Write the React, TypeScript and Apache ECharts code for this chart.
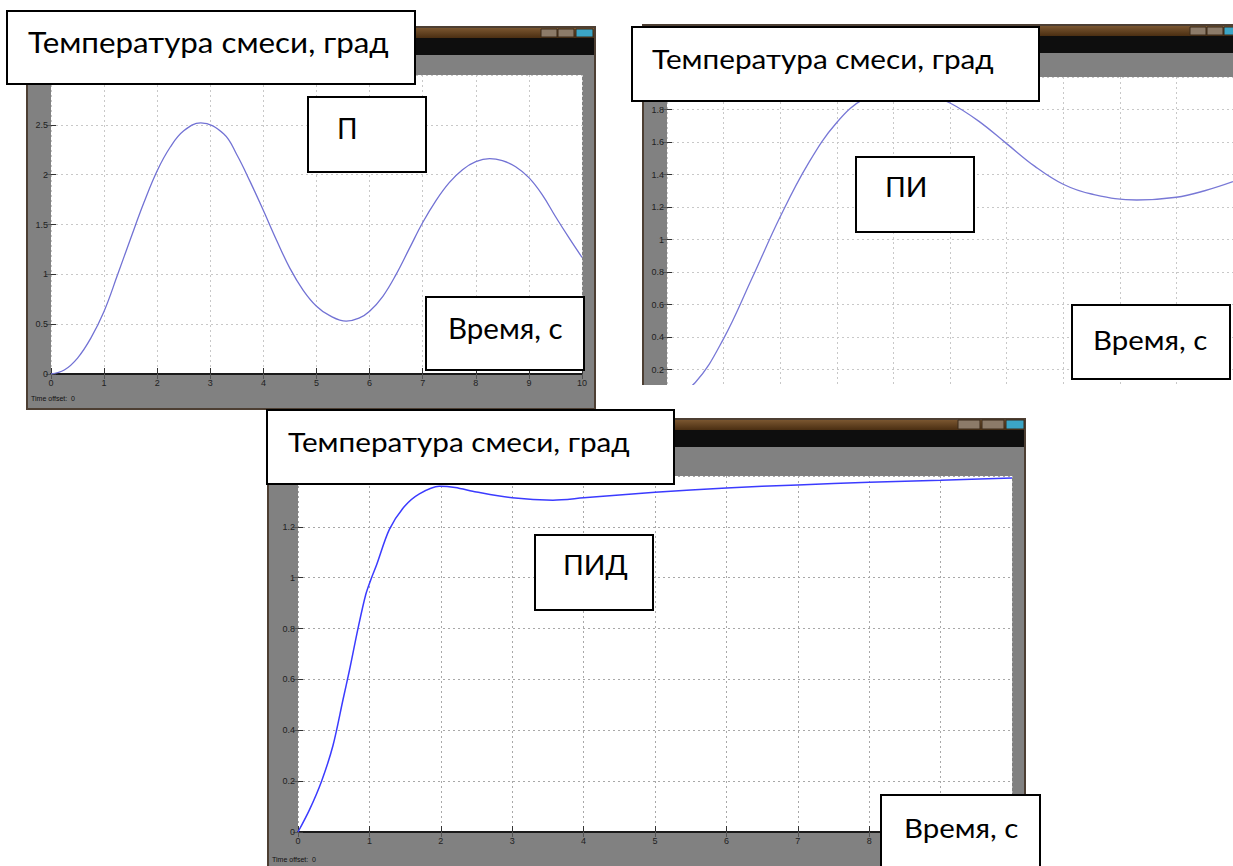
import { useEffect, useRef } from "react";
import * as echarts from "echarts";

// ---- data ----
const pTime = [0, 0.25, 0.5, 0.75, 1, 1.25, 1.5, 1.75, 2, 2.25, 2.5, 2.82, 3.25, 3.5, 3.75, 4, 4.25, 4.5, 4.75, 5, 5.25, 5.56, 5.8, 6, 6.25, 6.5, 6.75, 7, 7.25, 7.5, 7.75, 8, 8.26, 8.5, 8.75, 9, 9.25, 9.5, 9.75, 10];
const pTemp = [0, 0.04, 0.16, 0.36, 0.63, 0.99, 1.36, 1.72, 2.04, 2.28, 2.44, 2.52, 2.41, 2.2, 1.93, 1.64, 1.34, 1.06, 0.84, 0.68, 0.585, 0.53, 0.56, 0.63, 0.78, 1.0, 1.26, 1.52, 1.74, 1.92, 2.05, 2.13, 2.16, 2.14, 2.08, 1.97, 1.8, 1.58, 1.37, 1.17];

const piTime = [0, 0.5, 1, 1.5, 2, 2.5, 3, 3.5, 4.1, 4.5, 5, 5.5, 6, 6.5, 7, 7.5, 8.3, 9, 9.5, 10];
const piTemp = [0, 0.12, 0.39, 0.76, 1.14, 1.47, 1.72, 1.87, 1.935, 1.91, 1.84, 1.73, 1.59, 1.45, 1.34, 1.28, 1.243, 1.26, 1.3, 1.356];

const pidTime = [0, 0.16, 0.33, 0.49, 0.63, 0.72, 0.84, 0.95, 1.03, 1.1, 1.28, 1.49, 1.7, 1.98, 2.2, 2.5, 3, 3.57, 4, 5, 6, 7, 8, 9, 10];
const pidTemp = [0, 0.087, 0.2, 0.34, 0.52, 0.635, 0.8, 0.935, 1.0, 1.05, 1.19, 1.28, 1.33, 1.36, 1.355, 1.337, 1.314, 1.305, 1.314, 1.336, 1.353, 1.365, 1.375, 1.383, 1.392];

const timeRange = [0, 10];
const pTempRange = [0, 3, 0.5];
const piTempRange = [0, 2, 0.2];
const pidTempRange = [0, 1.4, 0.2];

const titleText = "Температура смеси, град";
const timeText = "Время, с";
const panelNames = ["П", "ПИ", "ПИД"];
const timeOffsetText = "Time offset:  0";

const TXT_FONT = "Lato, 'Noto Sans', sans-serif";
const TICK_FONT = "'Liberation Sans', Arial, sans-serif";

function xAxes(g: number, labelMax: number | null) {
  return [
    {
      type: "value", gridIndex: g, min: timeRange[0], max: timeRange[1], interval: 1, position: "bottom",
      axisLine: { show: true, onZero: false, lineStyle: { color: "#1a1a1a", width: 2 } },
      axisTick: { show: true, inside: true, length: 6, lineStyle: { color: "#333" } },
      axisLabel: {
        show: labelMax !== null, color: "#222", fontSize: 9, margin: 4, fontFamily: TICK_FONT,
        formatter: (v: number) => (labelMax !== null && v <= labelMax ? String(v) : ""),
      },
      splitLine: { show: true, lineStyle: { type: [2, 3], color: g === 2 ? "#a8a8a8" : "#c8c8c8", width: 1 } },
    },
    {
      type: "value", gridIndex: g, min: timeRange[0], max: timeRange[1], interval: 1, position: "top",
      axisLine: { show: false },
      axisTick: { show: true, inside: true, length: 5, lineStyle: { color: "#555" } },
      axisLabel: { show: false },
      splitLine: { show: false },
    },
  ];
}

function yAxes(g: number, r: number[]) {
  return [
    {
      type: "value", gridIndex: g, min: r[0], max: r[1], interval: r[2], position: "left",
      axisLine: { show: false },
      axisTick: { show: true, inside: true, length: 5, lineStyle: { color: "#333" } },
      axisLabel: { color: "#222", fontSize: 9, margin: 3, fontFamily: TICK_FONT, showMaxLabel: false },
      splitLine: { show: true, lineStyle: { type: [2, 3], color: g === 2 ? "#a8a8a8" : "#c8c8c8", width: 1 } },
    },
    {
      type: "value", gridIndex: g, min: r[0], max: r[1], interval: r[2], position: "right",
      axisLine: { show: false },
      axisTick: { show: true, inside: true, length: 5, lineStyle: { color: "#555" } },
      axisLabel: { show: false },
      splitLine: { show: false },
    },
  ];
}

function rect(x: number, y: number, w: number, h: number, fill: any, z: number, z2: number, stroke?: string, lw?: number) {
  return {
    type: "rect", z, z2, silent: true,
    shape: { x, y, width: w, height: h },
    style: { fill, stroke: stroke || null, lineWidth: lw || 0 },
  };
}

function label(x: number, y: number, text: string, size: number, sx: number) {
  return {
    type: "text", z: 101, silent: true, x, y, scaleX: sx,
    style: { text, fill: "#000", font: `${size}px ${TXT_FONT}`, verticalAlign: "middle", align: "left" },
  };
}

const brown = new echarts.graphic.LinearGradient(0, 0, 0, 1, [
  { offset: 0, color: "#7a5630" },
  { offset: 1, color: "#4a2e12" },
]);

function windowFrame(x: number, y: number, w: number, h: number, plot: number[], buttons: number[][]) {
  const els: any[] = [
    rect(x, y, w, h, "#818181", -3, 0, "#4d3f33", 2),
    rect(x + 1, y + 1, w - 2, 10, brown, -3, 1),
    rect(x + 1, y + 11, w - 2, 17, "#0e0e0e", -3, 2),
    rect(plot[0], plot[1], plot[2], plot[3], "#ffffff", -3, 3),
  ];
  buttons.forEach((b, i) => {
    els.push(rect(b[0], b[1], b[2], b[3], i === buttons.length - 1 ? "#3ba5c6" : "#8c7b69", -3, 4, "#3a2a1a", 1));
  });
  return els;
}

function textBox(x: number, y: number, w: number, h: number, text: string, tx: number, ty: number, size: number, sx: number) {
  return [
    rect(x, y, w, h, "#ffffff", 100, 0, "#000000", 2),
    label(tx, ty, text, size, sx),
  ];
}

export default function App() {
  const ref = useRef<HTMLDivElement>(null);

  useEffect(() => {
    if (!ref.current) return;
    const chart = echarts.init(ref.current, undefined, { renderer: "svg" });

    const graphics: any[] = [
      // panel 1 window
      ...windowFrame(27, 27, 568, 382, [51, 75, 531, 299], [[541, 29, 16, 8], [558, 29, 16, 8], [576, 29, 17, 8]]),
      { type: "text", z: -2, silent: true, x: 31, y: 398, style: { text: timeOffsetText, fill: "#111", font: `7px ${TICK_FONT}`, verticalAlign: "middle" } },
      // panel 2 window
      ...windowFrame(643, 25, 594, 362, [667, 77, 566, 325], [[1190, 27, 16, 8], [1207, 27, 16, 8], [1224, 27, 12, 8]]),
      rect(630, 385, 603, 22, "#ffffff", 50, 0),
      // panel 3 window
      ...windowFrame(268, 419, 757, 452, [298, 476, 714, 356], [[958, 420, 22, 9], [982, 420, 22, 9], [1006, 420, 18, 9]]),
      { type: "text", z: -2, silent: true, x: 272, y: 859, style: { text: timeOffsetText, fill: "#111", font: `7px ${TICK_FONT}`, verticalAlign: "middle" } },
      // text boxes
      ...textBox(7, 11, 408, 73, titleText, 28, 42, 28, 1.12),
      ...textBox(308, 97, 118, 75, panelNames[0], 337, 128, 28, 1.0),
      ...textBox(426, 297, 158, 73, timeText, 448, 328, 28, 1.055),
      ...textBox(632, 27, 407, 74, titleText, 652, 59, 27, 1.1),
      ...textBox(856, 157, 118, 75, panelNames[1], 885, 187, 27, 1.05),
      ...textBox(1072, 305, 158, 74, timeText, 1093, 339, 27, 1.09),
      ...textBox(267, 410, 407, 74, titleText, 288, 442, 27, 1.1),
      ...textBox(535, 535, 118, 75, panelNames[2], 563, 565, 27, 1.05),
      ...textBox(881, 795, 159, 80, timeText, 904, 827, 27, 1.09),
    ];

    chart.setOption({
      animation: false,
      grid: [
        { left: 51, top: 75, width: 531, height: 299, containLabel: false },
        { left: 667, top: 77, width: 566, height: 325, containLabel: false },
        { left: 298, top: 476, width: 714, height: 356, containLabel: false },
      ],
      xAxis: [...xAxes(0, 10), ...xAxes(1, null), ...xAxes(2, 8)],
      yAxis: [...yAxes(0, pTempRange), ...yAxes(1, piTempRange), ...yAxes(2, pidTempRange)],
      series: [
        {
          type: "line", xAxisIndex: 0, yAxisIndex: 0, smooth: 0.4, showSymbol: false, silent: true,
          lineStyle: { color: "#7272d4", width: 1.3 },
          data: pTime.map((t, i) => [t, pTemp[i]]),
        },
        {
          type: "line", xAxisIndex: 2, yAxisIndex: 2, smooth: 0.4, showSymbol: false, silent: true,
          lineStyle: { color: "#7878d6", width: 1.3 },
          data: piTime.map((t, i) => [t, piTemp[i]]),
        },
        {
          type: "line", xAxisIndex: 4, yAxisIndex: 4, smooth: 0.3, showSymbol: false, silent: true,
          lineStyle: { color: "#3b3bff", width: 1.5 },
          data: pidTime.map((t, i) => [t, pidTemp[i]]),
        },
      ],
      graphic: { elements: graphics },
    });

    return () => chart.dispose();
  }, []);

  return <div ref={ref} style={{ position: "absolute", left: 0, top: 0, width: 1233, height: 866, background: "#fff" }} />;
}
